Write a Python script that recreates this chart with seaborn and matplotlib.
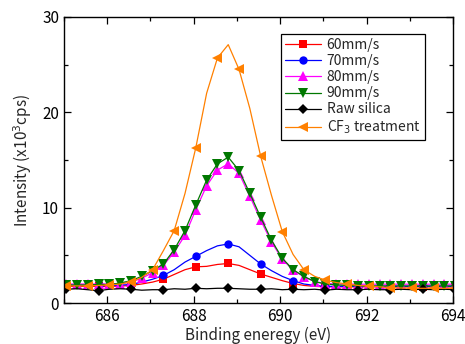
import numpy as np
import pandas as pd
import seaborn as sns
import matplotlib.pyplot as plt
from matplotlib.ticker import MultipleLocator

# Energia de enlace (eV), paso 0.25 eV
energia = np.round(685.05 + 0.25 * np.arange(37), 2)

v60 = [1.75, 1.75, 1.75, 1.75, 1.75, 1.78, 1.85, 2.0, 2.2, 2.5, 3.0, 3.5, 3.8, 3.85,
       4.05, 4.15, 3.95, 3.5, 3.05, 2.7, 2.35, 2.05, 1.85, 1.75, 1.7, 1.7, 1.7, 1.7,
       1.7, 1.7, 1.7, 1.7, 1.7, 1.7, 1.7, 1.7, 1.7]
v70 = [1.85, 1.85, 1.85, 1.85, 1.85, 1.88, 1.95, 2.2, 2.5, 2.9, 3.5, 4.3, 4.9, 5.5,
       6.0, 6.2, 5.9, 5.0, 4.1, 3.4, 2.8, 2.35, 2.0, 1.85, 1.75, 1.75, 1.75, 1.75,
       1.75, 1.75, 1.75, 1.75, 1.75, 1.75, 1.75, 1.75, 1.75]
v80 = [2.0, 2.0, 2.0, 2.0, 2.0, 2.05, 2.2, 2.6, 3.2, 3.95, 5.35, 7.1, 9.8, 12.3,
       13.95, 14.6, 13.6, 11.2, 8.7, 6.4, 4.6, 3.45, 2.75, 2.25, 2.05, 2.0, 2.0, 1.98,
       1.98, 1.98, 1.98, 1.98, 1.98, 1.98, 1.98, 1.98, 1.98]
v90 = [1.9, 1.9, 1.9, 1.95, 1.95, 2.1, 2.35, 2.8, 3.4, 4.1, 5.6, 7.6, 10.3, 12.9,
       14.6, 15.3, 13.9, 11.5, 9.0, 6.6, 4.7, 3.5, 2.8, 2.25, 2.0, 1.9, 1.85, 1.8,
       1.8, 1.8, 1.8, 1.8, 1.8, 1.8, 1.8, 1.8, 1.8]
raw = [1.45, 1.5, 1.4, 1.3, 1.45, 1.5, 1.45, 1.35, 1.4, 1.4, 1.5, 1.45, 1.55, 1.5,
       1.55, 1.55, 1.5, 1.45, 1.45, 1.5, 1.4, 1.45, 1.4, 1.45, 1.35, 1.45, 1.4, 1.4,
       1.45, 1.4, 1.4, 1.45, 1.4, 1.45, 1.4, 1.45, 1.4]
cf3 = [1.8, 1.8, 1.8, 1.85, 1.9, 2.0, 2.2, 2.7, 3.5, 5.5, 7.6, 11.5, 16.3, 22.0,
       25.7, 27.1, 24.5, 20.4, 15.4, 11.3, 7.5, 5.1, 3.5, 2.8, 2.4, 2.15, 2.0, 1.85,
       1.78, 1.7, 1.62, 1.58, 1.55, 1.55, 1.55, 1.55, 1.55]

series = [
    ("60mm/s", v60, "#ff0000", "s", 5.5, 3),
    ("70mm/s", v70, "#0000ff", "o", 6, 3),
    ("80mm/s", v80, "#ff00ff", "^", 6.5, 1),
    ("90mm/s", v90, "#007800", "v", 6.5, 1),
    ("Raw silica", raw, "#000000", "D", 5.5, 3),
    ("CF$_3$ treatment", cf3, "#ff8000", "<", 6.5, 2),
]

sns.set_style("ticks")
plt.rcParams['font.family'] = ['Noto Sans CJK JP', 'DejaVu Sans']

fig = plt.figure(figsize=(4.65, 3.44), dpi=100)
ax = fig.add_axes([0.1376, 0.119, 0.8366, 0.8316])

for nombre, valores, color, marca, tam, cada in series:
    df = pd.DataFrame({"energia": energia, "intensidad": valores})
    sns.lineplot(data=df, x="energia", y="intensidad", ax=ax, color=color,
                 marker=marca, markersize=tam, markeredgewidth=0,
                 markevery=(0, cada), linewidth=0.9, label=nombre)

ax.set_xlim(685, 694)
ax.set_ylim(0, 30)
ax.xaxis.set_major_locator(MultipleLocator(2))
ax.xaxis.set_minor_locator(MultipleLocator(1))
ax.yaxis.set_major_locator(MultipleLocator(10))
ax.yaxis.set_minor_locator(MultipleLocator(5))
ax.tick_params(which="both", direction="in", top=True, right=True, labelsize=11,
               width=0.9, colors="black")
ax.tick_params(which="major", length=5)
ax.tick_params(which="minor", length=3)
for s in ax.spines.values():
    s.set_linewidth(1.0)
    s.set_color("black")

ax.set_xlabel("Binding eneregy (eV)", fontsize=11, labelpad=1)
ax.set_ylabel("Intensity (x10$^3$cps)", fontsize=11, labelpad=6)

leg = ax.legend(loc="upper right", bbox_to_anchor=(0.945, 0.965), fontsize=10,
                frameon=True, fancybox=False, edgecolor="black", framealpha=1,
                handlelength=2.6, borderpad=0.3, labelspacing=0.15, handletextpad=0.4)
leg.get_frame().set_linewidth(0.9)

plt.savefig("out.png", dpi=100)
